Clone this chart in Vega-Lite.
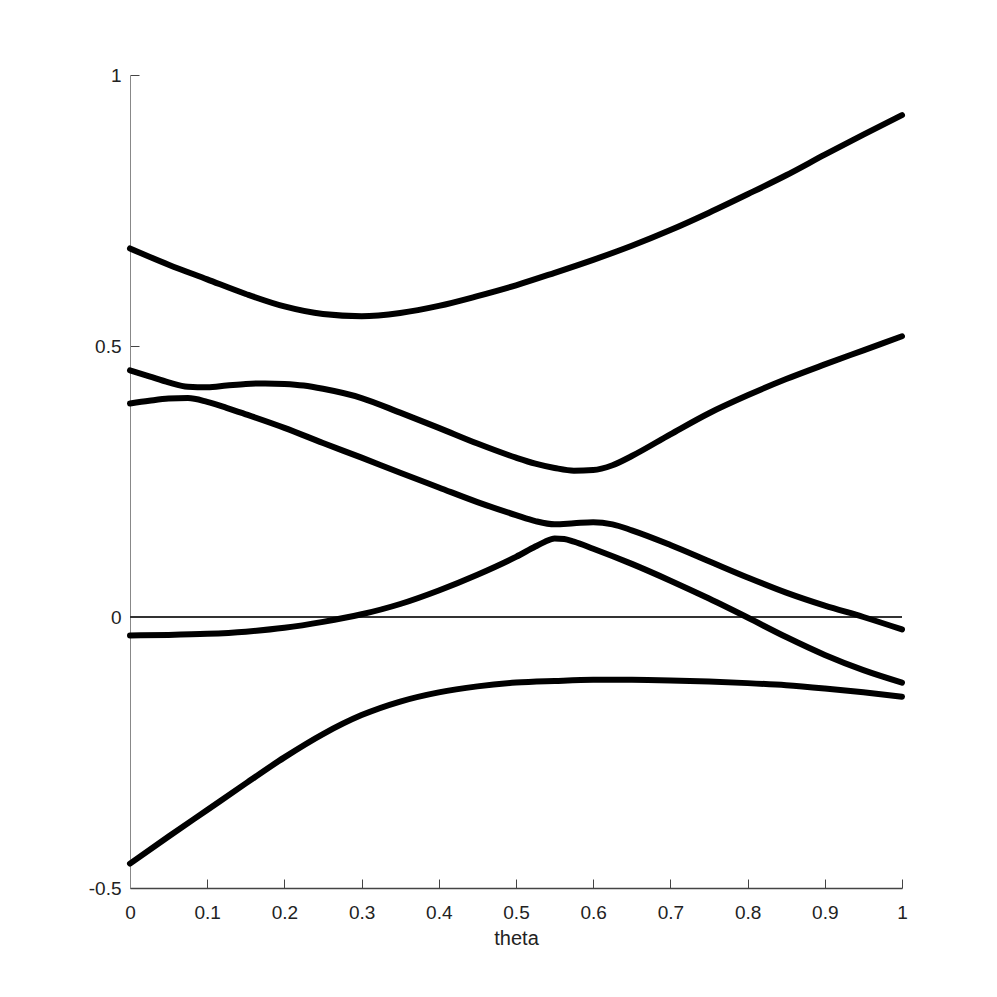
{
  "$schema": "https://vega.github.io/schema/vega-lite/v6.json",
  "autosize": {"type": "none"},
  "padding": {"left": 130, "top": 75, "right": 95, "bottom": 109},
  "width": 772,
  "height": 813,
  "background": "white",
  "config": {"view": {"stroke": null}, "axis": {"grid": false, "labelFont": "Liberation Sans Narrow, Liberation Sans", "titleFont": "Liberation Sans Narrow, Liberation Sans"}},
  "data": {"values": [
    {"theta":0,"y":0.680,"branch":"A"},{"theta":0.05,"y":0.650,"branch":"A"},{"theta":0.1,"y":0.623,"branch":"A"},{"theta":0.15,"y":0.596,"branch":"A"},{"theta":0.2,"y":0.573,"branch":"A"},{"theta":0.25,"y":0.559,"branch":"A"},{"theta":0.3,"y":0.555,"branch":"A"},{"theta":0.35,"y":0.561,"branch":"A"},{"theta":0.4,"y":0.574,"branch":"A"},{"theta":0.45,"y":0.592,"branch":"A"},{"theta":0.5,"y":0.612,"branch":"A"},{"theta":0.55,"y":0.635,"branch":"A"},{"theta":0.6,"y":0.659,"branch":"A"},{"theta":0.65,"y":0.685,"branch":"A"},{"theta":0.7,"y":0.714,"branch":"A"},{"theta":0.75,"y":0.746,"branch":"A"},{"theta":0.8,"y":0.780,"branch":"A"},{"theta":0.85,"y":0.815,"branch":"A"},{"theta":0.9,"y":0.853,"branch":"A"},{"theta":0.95,"y":0.890,"branch":"A"},{"theta":1.0,"y":0.926,"branch":"A"},

    {"theta":0,"y":0.455,"branch":"B"},{"theta":0.025,"y":0.444,"branch":"B"},{"theta":0.05,"y":0.433,"branch":"B"},{"theta":0.075,"y":0.425,"branch":"B"},{"theta":0.1,"y":0.424,"branch":"B"},{"theta":0.125,"y":0.427,"branch":"B"},{"theta":0.15,"y":0.430,"branch":"B"},{"theta":0.175,"y":0.431,"branch":"B"},{"theta":0.2,"y":0.430,"branch":"B"},{"theta":0.225,"y":0.427,"branch":"B"},{"theta":0.25,"y":0.421,"branch":"B"},{"theta":0.3,"y":0.404,"branch":"B"},{"theta":0.35,"y":0.377,"branch":"B"},{"theta":0.4,"y":0.349,"branch":"B"},{"theta":0.45,"y":0.320,"branch":"B"},{"theta":0.5,"y":0.294,"branch":"B"},{"theta":0.525,"y":0.283,"branch":"B"},{"theta":0.55,"y":0.275,"branch":"B"},{"theta":0.575,"y":0.270,"branch":"B"},{"theta":0.6,"y":0.271,"branch":"B"},{"theta":0.625,"y":0.280,"branch":"B"},{"theta":0.65,"y":0.297,"branch":"B"},{"theta":0.7,"y":0.337,"branch":"B"},{"theta":0.75,"y":0.376,"branch":"B"},{"theta":0.8,"y":0.409,"branch":"B"},{"theta":0.85,"y":0.439,"branch":"B"},{"theta":0.9,"y":0.466,"branch":"B"},{"theta":0.95,"y":0.492,"branch":"B"},{"theta":1.0,"y":0.518,"branch":"B"},

    {"theta":0,"y":0.394,"branch":"C"},{"theta":0.025,"y":0.399,"branch":"C"},{"theta":0.05,"y":0.403,"branch":"C"},{"theta":0.075,"y":0.404,"branch":"C"},{"theta":0.1,"y":0.397,"branch":"C"},{"theta":0.125,"y":0.386,"branch":"C"},{"theta":0.15,"y":0.374,"branch":"C"},{"theta":0.2,"y":0.349,"branch":"C"},{"theta":0.25,"y":0.321,"branch":"C"},{"theta":0.3,"y":0.294,"branch":"C"},{"theta":0.35,"y":0.266,"branch":"C"},{"theta":0.4,"y":0.239,"branch":"C"},{"theta":0.45,"y":0.212,"branch":"C"},{"theta":0.5,"y":0.188,"branch":"C"},{"theta":0.525,"y":0.177,"branch":"C"},{"theta":0.55,"y":0.171,"branch":"C"},{"theta":0.575,"y":0.173,"branch":"C"},{"theta":0.6,"y":0.175,"branch":"C"},{"theta":0.625,"y":0.171,"branch":"C"},{"theta":0.65,"y":0.160,"branch":"C"},{"theta":0.7,"y":0.133,"branch":"C"},{"theta":0.75,"y":0.103,"branch":"C"},{"theta":0.8,"y":0.073,"branch":"C"},{"theta":0.85,"y":0.045,"branch":"C"},{"theta":0.9,"y":0.021,"branch":"C"},{"theta":0.95,"y":0.000,"branch":"C"},{"theta":1.0,"y":-0.023,"branch":"C"},

    {"theta":0,"y":-0.034,"branch":"D"},{"theta":0.05,"y":-0.033,"branch":"D"},{"theta":0.1,"y":-0.031,"branch":"D"},{"theta":0.15,"y":-0.027,"branch":"D"},{"theta":0.2,"y":-0.020,"branch":"D"},{"theta":0.25,"y":-0.009,"branch":"D"},{"theta":0.3,"y":0.005,"branch":"D"},{"theta":0.35,"y":0.024,"branch":"D"},{"theta":0.4,"y":0.049,"branch":"D"},{"theta":0.45,"y":0.078,"branch":"D"},{"theta":0.5,"y":0.111,"branch":"D"},{"theta":0.525,"y":0.130,"branch":"D"},{"theta":0.5375,"y":0.139,"branch":"D"},{"theta":0.55,"y":0.145,"branch":"D"},{"theta":0.5625,"y":0.144,"branch":"D"},{"theta":0.575,"y":0.139,"branch":"D"},{"theta":0.6,"y":0.126,"branch":"D"},{"theta":0.65,"y":0.098,"branch":"D"},{"theta":0.7,"y":0.067,"branch":"D"},{"theta":0.75,"y":0.034,"branch":"D"},{"theta":0.8,"y":-0.001,"branch":"D"},{"theta":0.85,"y":-0.037,"branch":"D"},{"theta":0.9,"y":-0.070,"branch":"D"},{"theta":0.95,"y":-0.098,"branch":"D"},{"theta":1.0,"y":-0.121,"branch":"D"},

    {"theta":0,"y":-0.455,"branch":"E"},{"theta":0.05,"y":-0.405,"branch":"E"},{"theta":0.1,"y":-0.356,"branch":"E"},{"theta":0.15,"y":-0.307,"branch":"E"},{"theta":0.2,"y":-0.259,"branch":"E"},{"theta":0.25,"y":-0.216,"branch":"E"},{"theta":0.3,"y":-0.181,"branch":"E"},{"theta":0.35,"y":-0.156,"branch":"E"},{"theta":0.4,"y":-0.139,"branch":"E"},{"theta":0.45,"y":-0.128,"branch":"E"},{"theta":0.5,"y":-0.121,"branch":"E"},{"theta":0.55,"y":-0.118,"branch":"E"},{"theta":0.6,"y":-0.116,"branch":"E"},{"theta":0.65,"y":-0.116,"branch":"E"},{"theta":0.7,"y":-0.117,"branch":"E"},{"theta":0.75,"y":-0.119,"branch":"E"},{"theta":0.8,"y":-0.122,"branch":"E"},{"theta":0.85,"y":-0.126,"branch":"E"},{"theta":0.9,"y":-0.132,"branch":"E"},{"theta":0.95,"y":-0.139,"branch":"E"},{"theta":1.0,"y":-0.147,"branch":"E"}
  ]},
  "layer": [
    {
      "mark": {"type": "rule", "color": "#333", "strokeWidth": 1.8},
      "encoding": {"y": {"datum": 0}}
    },
    {
      "mark": {"type": "line", "color": "black", "strokeWidth": 6, "interpolate": "monotone", "strokeCap": "round"},
      "encoding": {
        "x": {"field": "theta", "type": "quantitative", "scale": {"domain": [0, 1], "nice": false, "zero": false},
          "axis": {"title": "theta", "values": [0,0.1,0.2,0.3,0.4,0.5,0.6,0.7,0.8,0.9,1], "labelExpr": "toString(datum.value)", "labelFlush": false, "domainColor": "#444", "domainWidth": 1.5, "tickColor": "#444", "tickSize": -9, "labelPadding": 24, "labelFontSize": 19, "labelColor": "#222", "titleFontSize": 20, "titleFontWeight": "normal", "titleColor": "#222", "titlePadding": 6}},
        "y": {"field": "y", "type": "quantitative", "scale": {"domain": [-0.5, 1], "nice": false, "zero": false},
          "axis": {"title": null, "values": [-0.5, 0, 0.5, 1], "labelExpr": "toString(datum.value)", "labelFlush": false, "domainColor": "#888", "domainWidth": 1, "tickColor": "#444", "tickSize": -9, "labelPadding": 18, "labelFontSize": 19, "labelColor": "#222"}},
        "detail": {"field": "branch"}
      }
    }
  ]
}
